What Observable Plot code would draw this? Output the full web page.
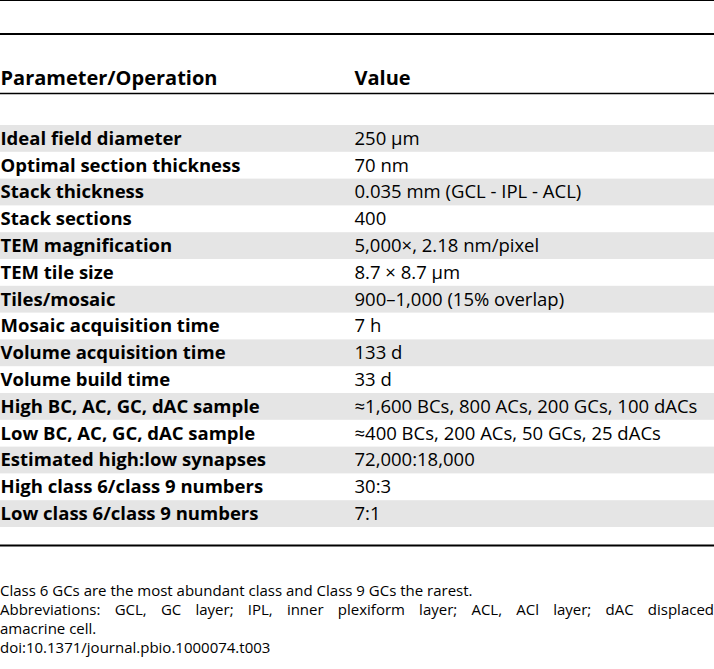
<!DOCTYPE html>
<html>
<head>
<meta charset="utf-8">
<script src="https://cdn.jsdelivr.net/npm/d3@7"></script>
<script src="https://cdn.jsdelivr.net/npm/@observablehq/plot@0.6"></script>
<style>
  html, body { margin: 0; padding: 0; background: #fff; }
  body { width: 714px; font-family: "Open Sans", sans-serif; color: #000; }
  #top { height: 32px; border-top: 1px solid #000; border-bottom: 2px solid #000; }
  #chart svg { display: block; }
  #notes { margin-top: 34px; font-size: 15px; line-height: 19px; }
  #notes p { margin: 0; text-align: justify; }
  #notes .full { display: block; text-align: justify; text-align-last: justify; }
</style>
</head>
<body>
<div id="top"></div>
<div id="chart"></div>
<div id="notes">
  <p>Class 6 GCs are the most abundant class and Class 9 GCs the rarest.</p>
  <p><span class="full">Abbreviations: GCL, GC layer; IPL, inner plexiform layer; ACL, ACl layer; dAC displaced</span>amacrine cell.</p>
  <p>doi:10.1371/journal.pbio.1000074.t003</p>
</div>
<script>
const columns = ["Parameter/Operation", "Value"];
const parameters = [
  "Ideal field diameter",
  "Optimal section thickness",
  "Stack thickness",
  "Stack sections",
  "TEM magnification",
  "TEM tile size",
  "Tiles/mosaic",
  "Mosaic acquisition time",
  "Volume acquisition time",
  "Volume build time",
  "High BC, AC, GC, dAC sample",
  "Low BC, AC, GC, dAC sample",
  "Estimated high:low synapses",
  "High class 6/class 9 numbers",
  "Low class 6/class 9 numbers"
];
const values = [
  "250 μm",
  "70 nm",
  "0.035 mm (GCL - IPL - ACL)",
  "400",
  "5,000×, 2.18 nm/pixel",
  "8.7 × 8.7 μm",
  "900–1,000 (15% overlap)",
  "7 h",
  "133 d",
  "33 d",
  "≈1,600 BCs, 800 ACs, 200 GCs, 100 dACs",
  "≈400 BCs, 200 ACs, 50 GCs, 25 dACs",
  "72,000:18,000",
  "30:3",
  "7:1"
];

const rows = parameters.map((p, i) => ({param: p, value: values[i], shaded: i % 2 === 0}));

const chart = Plot.plot({
  width: 714,
  height: 512,
  marginTop: 58,
  marginBottom: 2,
  marginLeft: 0,
  marginRight: 0,
  style: {fontFamily: "Open Sans", background: "#fff", overflow: "visible"},
  x: {type: "point", domain: columns, range: [0, 354], padding: 0},
  y: {type: "band", domain: parameters, range: [90, 492], paddingInner: 0, paddingOuter: 0, round: false, axis: null},
  marks: [
    Plot.cell(rows.filter(d => d.shaded), {y: "param", fill: "#e5e5e5", inset: 0}),
    Plot.frame({anchor: "top", stroke: "#000", strokeWidth: 1.5}),
    Plot.frame({anchor: "bottom", stroke: "#000", strokeWidth: 1.8}),
    Plot.axisX({anchor: "top", tickSize: 0, tickPadding: 9, textAnchor: "start", fontSize: 20, fontWeight: "bold", label: null}),
    Plot.text(rows, {x: () => columns[0], y: "param", text: "param", textAnchor: "start", fontSize: 18.5, fontWeight: "bold", fill: "#000"}),
    Plot.text(rows, {x: () => columns[1], y: "param", text: "value", textAnchor: "start", fontSize: 18.5, fill: "#000"})
  ]
});
document.getElementById("chart").append(chart);
</script>
</body>
</html>
